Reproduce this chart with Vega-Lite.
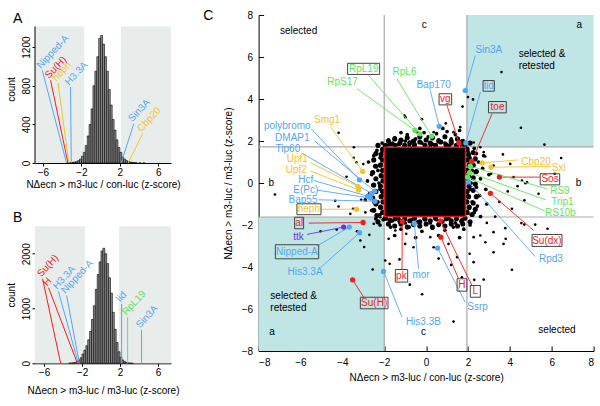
{
"$schema":"https://vega.github.io/schema/vega-lite/v6.json",
"background":"white",
"padding":{"left":6,"top":9,"right":5,"bottom":5},
"config":{
 "view":{"stroke":null},
 "font":"Liberation Sans",
 "axis":{"grid":false,"labelFont":"Liberation Sans","titleFont":"Liberation Sans","labelFontSize":10,"titleFontSize":10,"titleFontWeight":"normal","labelColor":"#000","titleColor":"#000","domainColor":"#000","tickColor":"#000","domainWidth":1,"tickWidth":1}
},
"datasets":{
 "histA":[
  {"b0":-3.6,"b1":-3.4,"n":2},{"b0":-3.4,"b1":-3.2,"n":3},{"b0":-3.2,"b1":-3.0,"n":5},{"b0":-3.0,"b1":-2.8,"n":7},{"b0":-2.8,"b1":-2.6,"n":10},{"b0":-2.6,"b1":-2.4,"n":15},{"b0":-2.4,"b1":-2.2,"n":25},{"b0":-2.2,"b1":-2.0,"n":40},{"b0":-2.0,"b1":-1.8,"n":70},{"b0":-1.8,"b1":-1.6,"n":110},{"b0":-1.6,"b1":-1.4,"n":180},{"b0":-1.4,"b1":-1.2,"n":280},{"b0":-1.2,"b1":-1.0,"n":400},{"b0":-1.0,"b1":-0.8,"n":560},{"b0":-0.8,"b1":-0.6,"n":800},{"b0":-0.6,"b1":-0.4,"n":950},{"b0":-0.4,"b1":-0.2,"n":1100},{"b0":-0.2,"b1":0.0,"n":1290},{"b0":0.0,"b1":0.2,"n":1320},{"b0":0.2,"b1":0.4,"n":1230},{"b0":0.4,"b1":0.6,"n":1100},{"b0":0.6,"b1":0.8,"n":950},{"b0":0.8,"b1":1.0,"n":760},{"b0":1.0,"b1":1.2,"n":600},{"b0":1.2,"b1":1.4,"n":450},{"b0":1.4,"b1":1.6,"n":340},{"b0":1.6,"b1":1.8,"n":240},{"b0":1.8,"b1":2.0,"n":160},{"b0":2.0,"b1":2.2,"n":110},{"b0":2.2,"b1":2.4,"n":60},{"b0":2.4,"b1":2.6,"n":40},{"b0":2.6,"b1":2.8,"n":25},{"b0":2.8,"b1":3.0,"n":15},{"b0":3.0,"b1":3.2,"n":10},{"b0":3.2,"b1":3.4,"n":6},{"b0":3.4,"b1":3.6,"n":4},{"b0":3.6,"b1":3.8,"n":3},{"b0":4.0,"b1":4.2,"n":2},{"b0":4.4,"b1":4.6,"n":1}
 ],
 "histB":[
  {"b0":-3.4,"b1":-3.2,"n":4},{"b0":-3.2,"b1":-3.0,"n":6},{"b0":-3.0,"b1":-2.8,"n":10},{"b0":-2.8,"b1":-2.6,"n":18},{"b0":-2.6,"b1":-2.4,"n":35},{"b0":-2.4,"b1":-2.2,"n":60},{"b0":-2.2,"b1":-2.0,"n":100},{"b0":-2.0,"b1":-1.8,"n":170},{"b0":-1.8,"b1":-1.6,"n":240},{"b0":-1.6,"b1":-1.4,"n":320},{"b0":-1.4,"b1":-1.2,"n":430},{"b0":-1.2,"b1":-1.0,"n":580},{"b0":-1.0,"b1":-0.8,"n":800},{"b0":-0.8,"b1":-0.6,"n":1050},{"b0":-0.6,"b1":-0.4,"n":1350},{"b0":-0.4,"b1":-0.2,"n":1620},{"b0":-0.2,"b1":0.0,"n":1850},{"b0":0.0,"b1":0.2,"n":2050},{"b0":0.2,"b1":0.4,"n":2100},{"b0":0.4,"b1":0.6,"n":2000},{"b0":0.6,"b1":0.8,"n":1820},{"b0":0.8,"b1":1.0,"n":1560},{"b0":1.0,"b1":1.2,"n":1280},{"b0":1.2,"b1":1.4,"n":930},{"b0":1.4,"b1":1.6,"n":620},{"b0":1.6,"b1":1.8,"n":380},{"b0":1.8,"b1":2.0,"n":210},{"b0":2.0,"b1":2.2,"n":110},{"b0":2.2,"b1":2.4,"n":60},{"b0":2.4,"b1":2.6,"n":30},{"b0":2.6,"b1":2.8,"n":15},{"b0":2.8,"b1":3.0,"n":8},{"b0":3.0,"b1":3.2,"n":4},{"b0":3.2,"b1":3.4,"n":2}
 ],
 "shadeA":[{"x1":-6.83,"x2":-1.7,"top":1414,"bot":0},{"x1":2.1,"x2":7.32,"top":1414,"bot":0}],
 "shadeB":[{"x1":-6.95,"x2":-1.7,"top":2500,"bot":0},{"x1":1.9,"x2":7.37,"top":2500,"bot":0}],
 "axisA":[{"xa":-6.83,"ya":0,"yb":1414}],
 "letterA":[{"t":"A","x":-9.12,"y":1454}],
 "letterB":[{"t":"B","x":-9.27,"y":2573}],
 "letterC":[{"t":"C","x":-10.64,"y":7.74}],
 "annA":[
  {"g":"Nipped-A","c":"blue","xb":-3.55,"xt":-6.07,"n":958,"z":0},
  {"g":"Su(H)","c":"red","xb":-3.4,"xt":-5.21,"n":855,"z":0},
  {"g":"heph","c":"yellow","xb":-3.3,"xt":-4.44,"n":827,"z":0},
  {"g":"H3.3A","c":"blue","xb":-3.06,"xt":-3.13,"n":786,"z":0},
  {"g":"Sin3A","c":"blue","xb":2.13,"xt":3.45,"n":407,"z":0},
  {"g":"Cbp20","c":"yellow","xb":2.86,"xt":4.38,"n":304,"z":0}
 ],
 "annB":[
  {"g":"Su(H)","c":"red","xb":-4.25,"xt":-6.15,"n":1543,"z":0},
  {"g":"H","c":"red","xb":-2.49,"xt":-5.52,"n":1378,"z":0},
  {"g":"H3.3A","c":"blue","xb":-2.39,"xt":-4.49,"n":1316,"z":0},
  {"g":"Nipped-A","c":"blue","xb":-2.28,"xt":-3.62,"n":1238,"z":0},
  {"g":"lid","c":"blue","xb":2.17,"xt":2.17,"n":1086,"z":0},
  {"g":"RpL19","c":"green","xb":2.8,"xt":2.8,"n":841,"z":0},
  {"g":"Sin3A","c":"blue","xb":4.27,"xt":4.27,"n":610,"z":0}
 ],
 "tealC":[{"x1":1.95,"x2":8,"y1":1.72,"y2":8},{"x1":-8,"x2":-2,"y1":-8,"y2":-1.62}],
 "linesC":[{"x1":-2,"x2":-2,"y1":-8,"y2":8},{"x1":1.95,"x2":1.95,"y1":-8,"y2":8},{"x1":-8,"x2":8,"y1":1.72,"y2":1.72},{"x1":-8,"x2":8,"y1":-1.62,"y2":-1.62}],
 "blobC":[{"x1":-2,"x2":1.88,"y1":-1.6,"y2":1.7}],
 "ptsC":[
  {"x":3.6,"y":5.28},{"x":4.53,"y":2.63},{"x":5.65,"y":1.83},{"x":-4.18,"y":2.39},{"x":-3.45,"y":1.7},{"x":-1.03,"y":3.21},{"x":-0.98,"y":3.13},{"x":-0.2,"y":3.04},{"x":0.94,"y":2.84},{"x":1.74,"y":3.64},{"x":2.0,"y":4.09},{"x":2.24,"y":3.98},{"x":6.45,"y":1.19},{"x":-7.22,"y":-0.55},{"x":4.02,"y":0.91},{"x":4.58,"y":0.12},{"x":6.14,"y":0.44},{"x":-4.34,"y":-0.85},{"x":-4.18,"y":-1.12},{"x":-5.04,"y":-2.3},{"x":-4.27,"y":-2.22},{"x":-2.96,"y":-3.05},{"x":-2.55,"y":-4.12},{"x":-1.95,"y":-3.69},{"x":-1.74,"y":-3.85},{"x":-1.27,"y":-3.64},{"x":-0.78,"y":-4.84},{"x":-0.19,"y":-5.3},{"x":1.31,"y":-6.6},{"x":1.71,"y":-4.49},{"x":2.3,"y":-4.61},{"x":2.75,"y":-4.6},{"x":3.22,"y":-3.3},{"x":3.7,"y":-2.9},{"x":4.1,"y":-4.13},{"x":4.55,"y":-1.91},{"x":5.8,"y":-2.18},{"x":2.83,"y":-2.82},{"x":2.27,"y":-3.77},{"x":3.67,"y":1.36},{"x":3.8,"y":-2.66},{"x":3.78,"y":-2.15},{"x":4.69,"y":-1.98},{"x":5.21,"y":-1.98},{"x":4.1,"y":-1.23},{"x":4.69,"y":-0.83},{"x":4.37,"y":-0.15},{"x":4.82,"y":0.04},{"x":5.37,"y":-0.51},{"x":3.22,"y":-2.34},{"x":2.59,"y":-2.5},{"x":2.08,"y":-3.37},{"x":3.22,"y":0.83},{"x":3.11,"y":0.44},{"x":2.83,"y":1.26},{"x":4.18,"y":0.28},{"x":4.74,"y":-0.01},{"x":-3.46,"y":1.2},{"x":-3.33,"y":0.99},{"x":-3.49,"y":-1.23},{"x":-3.62,"y":-1.47},{"x":-3.14,"y":-2.74},{"x":-2.71,"y":-2.47},{"x":-2.5,"y":-1.94},{"x":-2.19,"y":-1.63},{"x":-1.79,"y":-2.66},{"x":-1.47,"y":-2.26},{"x":-0.95,"y":-2.42},{"x":-0.6,"y":-3.06},{"x":0.2,"y":-2.58},{"x":0.36,"y":-3.06},{"x":1.07,"y":-2.9},{"x":1.48,"y":-3.53},{"x":2.27,"y":-2.58},{"x":-0.91,"y":2.18},{"x":-1.23,"y":2.02},{"x":-1.55,"y":1.79},{"x":-0.43,"y":2.42},{"x":0.36,"y":2.42},{"x":1.31,"y":2.42},{"x":1.63,"y":2.66},{"x":2.59,"y":1.7},{"x":2.75,"y":1.47},{"x":2.27,"y":1.93},{"x":3.5,"y":-0.9},{"x":3.9,"y":-0.4},{"x":3.3,"y":-1.6},{"x":2.9,"y":-1.9},{"x":-3.0,"y":0.9},{"x":-3.8,"y":0.3},{"x":-3.1,"y":-0.8},{"x":-2.9,"y":-1.4},{"x":-3.3,"y":-2.3},{"x":1.2,"y":-3.9},{"x":0.6,"y":-3.6},{"x":-1.0,"y":-2.9}
 ],
 "ringC":[
  {"x":-1.9,"y":1.8},{"x":-1.6,"y":1.9},{"x":-1.3,"y":1.85},{"x":-1.0,"y":2.0},{"x":-0.8,"y":1.8},{"x":-0.5,"y":2.1},{"x":-0.2,"y":1.9},{"x":0.1,"y":2.2},{"x":0.3,"y":1.85},{"x":0.6,"y":2.05},{"x":0.9,"y":1.9},{"x":1.2,"y":2.1},{"x":1.5,"y":1.85},{"x":1.7,"y":2.0},{"x":-1.5,"y":2.15},{"x":-0.9,"y":2.3},{"x":-0.1,"y":2.4},{"x":0.5,"y":2.35},{"x":1.0,"y":2.45},{"x":1.4,"y":2.3},{"x":-1.8,"y":2.05},{"x":-0.3,"y":2.6},{"x":0.8,"y":2.6},{"x":1.6,"y":2.5},{"x":-1.2,"y":2.4},{"x":0.2,"y":1.75},{"x":-0.6,"y":1.75},{"x":1.1,"y":1.78},{"x":-2.1,"y":1.9},{"x":-2.3,"y":1.75},
  {"x":-2.1,"y":1.5},{"x":-2.2,"y":1.2},{"x":-2.15,"y":0.9},{"x":-2.3,"y":0.6},{"x":-2.1,"y":0.3},{"x":-2.25,"y":0.0},{"x":-2.2,"y":-0.3},{"x":-2.1,"y":-0.6},{"x":-2.3,"y":-0.9},{"x":-2.15,"y":-1.2},{"x":-2.2,"y":-1.5},{"x":-2.5,"y":1.3},{"x":-2.45,"y":0.8},{"x":-2.6,"y":0.4},{"x":-2.55,"y":-0.1},{"x":-2.7,"y":-0.5},{"x":-2.5,"y":-0.9},{"x":-2.6,"y":-1.3},{"x":-2.4,"y":-1.7},{"x":-2.8,"y":0.1},{"x":-2.9,"y":-0.8},{"x":-2.75,"y":1.0},{"x":-2.35,"y":1.55},{"x":-2.05,"y":-1.75},
  {"x":2.0,"y":1.5},{"x":2.1,"y":1.2},{"x":2.05,"y":0.9},{"x":2.2,"y":0.6},{"x":2.0,"y":0.3},{"x":2.15,"y":0.0},{"x":2.1,"y":-0.3},{"x":2.0,"y":-0.6},{"x":2.2,"y":-0.9},{"x":2.05,"y":-1.2},{"x":2.15,"y":-1.5},{"x":2.4,"y":1.4},{"x":2.5,"y":1.0},{"x":2.35,"y":0.5},{"x":2.6,"y":0.2},{"x":2.4,"y":-0.2},{"x":2.55,"y":-0.6},{"x":2.45,"y":-1.1},{"x":2.3,"y":-1.4},{"x":2.7,"y":0.7},{"x":2.85,"y":-0.3},{"x":2.75,"y":1.3},{"x":2.3,"y":1.65},{"x":2.6,"y":-1.6},{"x":3.0,"y":0.4},{"x":2.9,"y":-1.0},
  {"x":-1.9,"y":-1.7},{"x":-1.6,"y":-1.8},{"x":-1.3,"y":-1.7},{"x":-1.0,"y":-1.9},{"x":-0.7,"y":-1.75},{"x":-0.4,"y":-1.85},{"x":-0.1,"y":-1.7},{"x":0.2,"y":-1.9},{"x":0.5,"y":-1.75},{"x":0.8,"y":-1.85},{"x":1.1,"y":-1.7},{"x":1.4,"y":-1.9},{"x":1.7,"y":-1.75},{"x":-1.7,"y":-2.1},{"x":-1.2,"y":-2.2},{"x":-0.8,"y":-2.1},{"x":-0.2,"y":-2.3},{"x":0.3,"y":-2.15},{"x":0.9,"y":-2.25},{"x":1.3,"y":-2.1},{"x":1.8,"y":-2.2},{"x":-1.5,"y":-2.5},{"x":-0.5,"y":-2.6},{"x":0.6,"y":-2.5},{"x":1.6,"y":-2.6},{"x":-2.2,"y":-2.0},{"x":2.1,"y":-2.0}
 ],
 "edgeC":[
  {"x":-1.95,"y":1.78},{"x":-1.72,"y":1.86},{"x":-1.48,"y":1.79},{"x":-1.25,"y":1.9},{"x":-1.02,"y":1.8},{"x":-0.78,"y":1.92},{"x":-0.55,"y":1.82},{"x":-0.3,"y":1.95},{"x":-0.05,"y":1.8},{"x":0.2,"y":1.9},{"x":0.45,"y":1.8},{"x":0.7,"y":1.95},{"x":0.95,"y":1.82},{"x":1.2,"y":1.9},{"x":1.45,"y":1.79},{"x":1.7,"y":1.86},{"x":1.85,"y":1.78},
  {"x":-1.95,"y":-1.68},{"x":-1.72,"y":-1.78},{"x":-1.48,"y":-1.7},{"x":-1.25,"y":-1.82},{"x":-1.02,"y":-1.7},{"x":-0.78,"y":-1.8},{"x":-0.55,"y":-1.68},{"x":-0.3,"y":-1.85},{"x":-0.05,"y":-1.72},{"x":0.2,"y":-1.8},{"x":0.45,"y":-1.68},{"x":0.7,"y":-1.82},{"x":0.95,"y":-1.7},{"x":1.2,"y":-1.8},{"x":1.45,"y":-1.7},{"x":1.7,"y":-1.82},{"x":1.85,"y":-1.68},
  {"x":-2.08,"y":1.6},{"x":-2.15,"y":1.35},{"x":-2.08,"y":1.1},{"x":-2.18,"y":0.85},{"x":-2.08,"y":0.6},{"x":-2.15,"y":0.35},{"x":-2.06,"y":0.1},{"x":-2.18,"y":-0.15},{"x":-2.08,"y":-0.4},{"x":-2.15,"y":-0.65},{"x":-2.06,"y":-0.9},{"x":-2.18,"y":-1.15},{"x":-2.08,"y":-1.4},
  {"x":1.96,"y":1.6},{"x":2.03,"y":1.35},{"x":1.96,"y":1.1},{"x":2.06,"y":0.85},{"x":1.96,"y":0.6},{"x":2.03,"y":0.35},{"x":1.95,"y":0.1},{"x":2.06,"y":-0.15},{"x":1.96,"y":-0.4},{"x":2.03,"y":-0.65},{"x":1.95,"y":-0.9},{"x":2.06,"y":-1.15},{"x":1.96,"y":-1.4},
  {"x":-1.8,"y":2.0},{"x":-1.5,"y":2.1},{"x":-1.2,"y":2.05},{"x":-0.9,"y":2.15},{"x":-0.6,"y":2.0},{"x":-0.3,"y":2.2},{"x":0.0,"y":2.05},{"x":0.3,"y":2.15},{"x":0.6,"y":2.0},{"x":0.9,"y":2.2},{"x":1.2,"y":2.0},{"x":1.5,"y":2.1},{"x":1.75,"y":1.98},
  {"x":-1.8,"y":-1.95},{"x":-1.5,"y":-2.05},{"x":-1.2,"y":-1.95},{"x":-0.9,"y":-2.1},{"x":-0.6,"y":-1.98},{"x":-0.3,"y":-2.05},{"x":0.0,"y":-1.95},{"x":0.3,"y":-2.1},{"x":0.6,"y":-1.98},{"x":0.9,"y":-2.05},{"x":1.2,"y":-1.95},{"x":1.5,"y":-2.05},{"x":1.75,"y":-1.95},
  {"x":-2.4,"y":1.4},{"x":-2.5,"y":1.1},{"x":-2.4,"y":0.8},{"x":-2.55,"y":0.5},{"x":-2.4,"y":0.2},{"x":-2.5,"y":-0.1},{"x":-2.4,"y":-0.4},{"x":-2.55,"y":-0.7},{"x":-2.4,"y":-1.0},{"x":-2.5,"y":-1.3},{"x":-2.35,"y":-1.55},
  {"x":2.25,"y":1.45},{"x":2.35,"y":1.15},{"x":2.25,"y":0.85},{"x":2.4,"y":0.55},{"x":2.25,"y":0.25},{"x":2.35,"y":-0.05},{"x":2.25,"y":-0.35},{"x":2.4,"y":-0.65},{"x":2.25,"y":-0.95},{"x":2.35,"y":-1.25},{"x":2.2,"y":-1.5},
  {"x":-2.3,"y":1.8},{"x":2.1,"y":1.9},{"x":-2.3,"y":-1.85},{"x":2.1,"y":-1.85}
 ],
 "annC":[
  {"g":"RpS17","c":"green","px":-0.53,"py":2.5,"lx":-3.3,"ly":4.49,"tx":-3.99,"ty":4.8},
  {"g":"RpL19","c":"green","px":-0.29,"py":2.34,"lx":-2.75,"ly":5.12,"tx":-2.98,"ty":5.44},
  {"g":"RpL6","c":"green","px":0.26,"py":2.23,"lx":-1.39,"ly":4.96,"tx":-1.03,"ty":5.28},
  {"g":"Bap170","c":"blue","px":0.63,"py":2.7,"lx":0.2,"ly":4.4,"tx":0.36,"ty":4.68},
  {"g":"Sin3A","c":"blue","px":1.87,"py":4.4,"lx":2.35,"ly":6.07,"tx":3.0,"ty":6.34},
  {"g":"lid","c":"blue","px":1.9,"py":1.91,"lx":2.59,"ly":4.32,"tx":2.99,"ty":4.62},
  {"g":"vg","c":"red","px":1.57,"py":1.91,"lx":1.0,"ly":3.69,"tx":0.92,"ty":3.98},
  {"g":"toe","c":"red","px":2.19,"py":1.02,"lx":3.15,"ly":3.3,"tx":3.41,"ty":3.61},
  {"g":"Cbp20","c":"yellow","px":2.68,"py":0.96,"lx":4.42,"ly":1.1,"tx":5.25,"ty":0.99},
  {"g":"Sxl","c":"yellow","px":3.1,"py":0.75,"lx":5.95,"ly":0.79,"tx":6.33,"ty":0.72},
  {"g":"Sos","c":"red","px":3.5,"py":0.28,"lx":5.42,"ly":0.28,"tx":5.92,"ty":0.17},
  {"g":"RS9","c":"green","px":2.11,"py":0.8,"lx":5.77,"ly":-0.28,"tx":6.39,"ty":-0.39},
  {"g":"Trip1","c":"green","px":2.08,"py":0.49,"lx":5.72,"ly":-0.8,"tx":6.51,"ty":-0.91},
  {"g":"RS10b","c":"green","px":1.98,"py":0.28,"lx":5.68,"ly":-1.34,"tx":6.41,"ty":-1.44},
  {"g":"Su(dx)","c":"red","px":3.07,"py":-0.49,"lx":5.14,"ly":-2.26,"tx":5.77,"ty":-2.74},
  {"g":"Rpd3","c":"blue","px":2.02,"py":0.05,"lx":5.21,"ly":-3.5,"tx":5.96,"ty":-3.61},
  {"g":"Ssrp","c":"blue","px":0.55,"py":-3.1,"lx":1.87,"ly":-5.68,"tx":2.46,"ty":-5.91},
  {"g":"H","c":"red","px":0.71,"py":-2.58,"lx":1.55,"ly":-4.56,"tx":1.71,"ty":-4.86},
  {"g":"L","c":"red","px":0.68,"py":-1.8,"lx":2.19,"ly":-4.88,"tx":2.35,"ty":-5.16},
  {"g":"mor","c":"blue","px":-0.56,"py":-1.94,"lx":-0.36,"ly":-4.09,"tx":-0.24,"ty":-4.36},
  {"g":"pk","c":"red","px":-1.14,"py":-1.83,"lx":-1.15,"ly":-4.12,"tx":-1.18,"ty":-4.42},
  {"g":"His3.3B","c":"blue","px":-2.03,"py":-4.21,"lx":-1.15,"ly":-6.39,"tx":-0.13,"ty":-6.6},
  {"g":"Su(H)","c":"red","px":-3.51,"py":-4.61,"lx":-2.98,"ly":-5.44,"tx":-2.48,"ty":-5.72},
  {"g":"His3.3A","c":"blue","px":-3.18,"py":-2.37,"lx":-5.02,"ly":-4.01,"tx":-5.78,"ty":-4.25},
  {"g":"Nipped-A","c":"blue","px":-3.67,"py":-2.1,"lx":-5.21,"ly":-3.0,"tx":-6.17,"ty":-3.28},
  {"g":"ttk","c":"purple","px":-3.94,"py":-2.1,"lx":-5.69,"ly":-2.45,"tx":-6.09,"ty":-2.55},
  {"g":"al","c":"red","px":-3.01,"py":-1.88,"lx":-5.61,"ly":-1.91,"tx":-6.06,"ty":-1.91},
  {"g":"heph","c":"yellow","px":-3.32,"py":-1.25,"lx":-5.02,"ly":-1.25,"tx":-5.6,"ty":-1.25},
  {"g":"Bap55","c":"blue","px":-2.44,"py":-0.87,"lx":-5.13,"ly":-0.8,"tx":-5.88,"ty":-0.8},
  {"g":"E(Pc)","c":"blue","px":-2.66,"py":-0.72,"lx":-5.21,"ly":-0.34,"tx":-5.75,"ty":-0.32},
  {"g":"Hcf","c":"blue","px":-2.79,"py":-0.63,"lx":-5.37,"ly":0.12,"tx":-5.75,"ty":0.16},
  {"g":"Upf2","c":"yellow","px":-3.22,"py":-0.33,"lx":-5.53,"ly":0.57,"tx":-6.2,"ty":0.64},
  {"g":"Upf1","c":"yellow","px":-3.25,"py":-0.17,"lx":-5.53,"ly":0.97,"tx":-6.15,"ty":1.12},
  {"g":"Tip60","c":"blue","px":-2.6,"py":-0.5,"lx":-5.93,"ly":1.42,"tx":-6.6,"ty":1.6},
  {"g":"DMAP1","c":"blue","px":-2.46,"py":-0.39,"lx":-5.32,"ly":2.0,"tx":-6.39,"ty":2.14},
  {"g":"polybromo","c":"blue","px":-3.18,"py":0.15,"lx":-5.48,"ly":2.57,"tx":-6.63,"ty":2.7},
  {"g":"Smg1","c":"yellow","px":-3.03,"py":0.55,"lx":-4.57,"ly":2.69,"tx":-4.73,"ty":3.01}
 ],
 "boxC":[
  {"g":"RpL19","x1":-3.75,"x2":-2.22,"y1":5.17,"y2":5.7},
  {"g":"lid","x1":2.72,"x2":3.26,"y1":4.37,"y2":4.88},
  {"g":"vg","x1":0.62,"x2":1.22,"y1":3.72,"y2":4.25},
  {"g":"toe","x1":2.98,"x2":3.83,"y1":3.34,"y2":3.88},
  {"g":"Sos","x1":5.45,"x2":6.38,"y1":-0.09,"y2":0.44},
  {"g":"Su(dx)","x1":5.06,"x2":6.49,"y1":-3.02,"y2":-2.45},
  {"g":"H","x1":1.48,"x2":1.95,"y1":-5.15,"y2":-4.56},
  {"g":"L","x1":2.11,"x2":2.59,"y1":-5.44,"y2":-4.88},
  {"g":"pk","x1":-1.47,"x2":-0.88,"y1":-4.72,"y2":-4.12},
  {"g":"Su(H)","x1":-3.14,"x2":-1.82,"y1":-5.99,"y2":-5.44},
  {"g":"Nipped-A","x1":-7.2,"x2":-5.13,"y1":-3.61,"y2":-2.94},
  {"g":"al","x1":-6.28,"x2":-5.85,"y1":-2.18,"y2":-1.63},
  {"g":"heph","x1":-6.17,"x2":-5.02,"y1":-1.51,"y2":-0.99}
 ],
 "quadC":[
  {"t":"selected","x":-6.09,"y":7.26},{"t":"c","x":-0.09,"y":7.53},{"t":"a","x":7.32,"y":7.53},
  {"t":"b","x":-7.39,"y":0.02},{"t":"b","x":7.28,"y":0.0},
  {"t":"a","x":-7.36,"y":-7.1},{"t":"c","x":-0.12,"y":-7.1},{"t":"selected","x":6.25,"y":-7.02}
 ],
 "quadL":[
  {"t":"selected &","x":4.42,"y":6.12},{"t":"retested","x":4.42,"y":5.56},
  {"t":"selected &","x":-7.44,"y":-5.39},{"t":"retested","x":-7.44,"y":-5.94}
 ]
},
"bounds":"flush",
"spacing":223.6,
"hconcat":[
 {"bounds":"flush","spacing":63.3,"vconcat":[
  {"width":136,"height":148,
   "layer":[
    {"data":{"name":"shadeA"},"mark":{"type":"rect","color":"#e8edeb"},"encoding":{
      "x":{"field":"x1","type":"quantitative","scale":{"domain":[-6.83,7.32],"nice":false,"zero":false},"axis":{"values":[-6,-4,-2,0,2,4,6],"title":"NΔecn > m3-luc / con-luc  (z-score)","tickSize":3,"labelPadding":1,"titlePadding":2}},
      "x2":{"field":"x2"},
      "y":{"field":"top","type":"quantitative","scale":{"domain":[0,1532],"nice":false,"zero":false},"axis":{"values":[0,200,400,600,800,1000,1200,1400],"labelExpr":"datum.value % 400 == 0 ? datum.label : ''","format":"d","labelAngle":-90,"domain":false,"title":"count","tickSize":3,"labelPadding":1,"titlePadding":5}},
      "y2":{"field":"bot"}}},
    {"data":{"name":"histA"},"mark":{"type":"rect","fill":"#8f8f8f","stroke":"#000","strokeWidth":0.6},"encoding":{
      "x":{"field":"b0","type":"quantitative","scale":{"domain":[-6.83,7.32],"nice":false,"zero":false}},"x2":{"field":"b1"},
      "y":{"field":"n","type":"quantitative","scale":{"domain":[0,1532],"nice":false,"zero":false}},"y2":{"datum":0}}},
    {"data":{"name":"axisA"},"mark":{"type":"rule","color":"#000","strokeWidth":1},"encoding":{
      "x":{"field":"xa","type":"quantitative","scale":{"domain":[-6.83,7.32],"nice":false,"zero":false}},
      "y":{"field":"ya","type":"quantitative","scale":{"domain":[0,1532],"nice":false,"zero":false}},"y2":{"field":"yb"}}},
    {"data":{"name":"annA"},"mark":{"type":"rule","strokeWidth":1},"encoding":{
      "x":{"field":"xb","type":"quantitative","scale":{"domain":[-6.83,7.32],"nice":false,"zero":false}},"x2":{"field":"xt"},
      "y":{"field":"z","type":"quantitative","scale":{"domain":[0,1532],"nice":false,"zero":false}},"y2":{"field":"n"},
      "color":{"field":"c","type":"nominal","legend":null,"scale":{"domain":["blue","red","green","yellow","purple"],"range":["#55a6f2","#f21c1c","#63e35a","#f7c22b","#6b34e8"]}}}},
    {"data":{"name":"annA"},"mark":{"type":"text","angle":-47,"align":"left","baseline":"bottom","fontSize":10},"encoding":{
      "x":{"field":"xt","type":"quantitative","scale":{"domain":[-6.83,7.32],"nice":false,"zero":false}},
      "y":{"field":"n","type":"quantitative","scale":{"domain":[0,1532],"nice":false,"zero":false}},
      "text":{"field":"g","type":"nominal"},
      "color":{"field":"c","type":"nominal","legend":null,"scale":{"domain":["blue","red","green","yellow","purple"],"range":["#55a6f2","#f21c1c","#63e35a","#f7c22b","#6b34e8"]}}}},
    {"data":{"name":"letterA"},"mark":{"type":"text","align":"left","baseline":"alphabetic","fontSize":14,"color":"#000"},"encoding":{
      "x":{"field":"x","type":"quantitative","scale":{"domain":[-6.83,7.32],"nice":false,"zero":false}},
      "y":{"field":"y","type":"quantitative","scale":{"domain":[0,1532],"nice":false,"zero":false}},
      "text":{"field":"t","type":"nominal"}}}
   ]
  },
  {"width":136,"height":137,
   "layer":[
    {"data":{"name":"shadeB"},"mark":{"type":"rect","color":"#e8edeb"},"encoding":{
      "x":{"field":"x1","type":"quantitative","scale":{"domain":[-6.95,7.37],"nice":false,"zero":false},"axis":{"values":[-6,-4,-2,0,2,4,6],"title":"NΔecn > m3-luc / m3-luc  (z-score)","tickSize":3,"labelPadding":1,"titlePadding":8}},
      "x2":{"field":"x2"},
      "y":{"field":"top","type":"quantitative","scale":{"domain":[0,2500],"nice":false,"zero":false},"axis":{"values":[0,500,1000,1500,2000,2500],"labelExpr":"datum.value % 1000 == 0 ? datum.label : ''","format":"d","labelAngle":-90,"title":"count","tickSize":3,"labelPadding":1,"titlePadding":5}},
      "y2":{"field":"bot"}}},
    {"data":{"name":"histB"},"mark":{"type":"rect","fill":"#8f8f8f","stroke":"#000","strokeWidth":0.6},"encoding":{
      "x":{"field":"b0","type":"quantitative","scale":{"domain":[-6.95,7.37],"nice":false,"zero":false}},"x2":{"field":"b1"},
      "y":{"field":"n","type":"quantitative","scale":{"domain":[0,2500],"nice":false,"zero":false}},"y2":{"datum":0}}},
    {"data":{"name":"annB"},"mark":{"type":"rule","strokeWidth":1},"encoding":{
      "x":{"field":"xb","type":"quantitative","scale":{"domain":[-6.95,7.37],"nice":false,"zero":false}},"x2":{"field":"xt"},
      "y":{"field":"z","type":"quantitative","scale":{"domain":[0,2500],"nice":false,"zero":false}},"y2":{"field":"n"},
      "color":{"field":"c","type":"nominal","legend":null,"scale":{"domain":["blue","red","green","yellow","purple"],"range":["#55a6f2","#f21c1c","#63e35a","#f7c22b","#6b34e8"]}}}},
    {"data":{"name":"annB"},"mark":{"type":"text","angle":-47,"align":"left","baseline":"bottom","fontSize":10},"encoding":{
      "x":{"field":"xt","type":"quantitative","scale":{"domain":[-6.95,7.37],"nice":false,"zero":false}},
      "y":{"field":"n","type":"quantitative","scale":{"domain":[0,2500],"nice":false,"zero":false}},
      "text":{"field":"g","type":"nominal"},
      "color":{"field":"c","type":"nominal","legend":null,"scale":{"domain":["blue","red","green","yellow","purple"],"range":["#55a6f2","#f21c1c","#63e35a","#f7c22b","#6b34e8"]}}}},
    {"data":{"name":"letterB"},"mark":{"type":"text","align":"left","baseline":"alphabetic","fontSize":14,"color":"#000"},"encoding":{
      "x":{"field":"x","type":"quantitative","scale":{"domain":[-6.95,7.37],"nice":false,"zero":false}},
      "y":{"field":"y","type":"quantitative","scale":{"domain":[0,2500],"nice":false,"zero":false}},
      "text":{"field":"t","type":"nominal"}}}
   ]
  }
 ]},
 {"width":335,"height":336,
  "layer":[
   {"data":{"name":"tealC"},"mark":{"type":"rect","color":"#bfe5e5"},"encoding":{
     "x":{"field":"x1","type":"quantitative","scale":{"domain":[-8,8],"nice":false,"zero":false},"axis":{"values":[-8,-6,-4,-2,0,2,4,6,8],"title":"NΔecn > m3-luc / con-luc (z-score)","tickSize":-5,"labelPadding":11,"titlePadding":5}},
     "x2":{"field":"x2"},
     "y":{"field":"y1","type":"quantitative","scale":{"domain":[-8,8],"nice":false,"zero":false},"axis":{"values":[-8,-6,-4,-2,0,2,4,6,8],"title":"NΔecn > m3-luc / m3-luc (z-score)","tickSize":-5,"labelPadding":11,"titlePadding":8}},
     "y2":{"field":"y2"}}},
   {"data":{"name":"linesC"},"mark":{"type":"rule","color":"#a9a9a9","strokeWidth":1.2},"encoding":{
     "x":{"field":"x1","type":"quantitative","scale":{"domain":[-8,8],"nice":false,"zero":false}},"x2":{"field":"x2"},
     "y":{"field":"y1","type":"quantitative","scale":{"domain":[-8,8],"nice":false,"zero":false}},"y2":{"field":"y2"}}},
   {"data":{"name":"ptsC"},"mark":{"type":"circle","color":"#000","size":7,"opacity":1},"encoding":{
     "x":{"field":"x","type":"quantitative","scale":{"domain":[-8,8],"nice":false,"zero":false}},
     "y":{"field":"y","type":"quantitative","scale":{"domain":[-8,8],"nice":false,"zero":false}}}},
   {"data":{"name":"blobC"},"mark":{"type":"rect","color":"#000"},"encoding":{
     "x":{"field":"x1","type":"quantitative","scale":{"domain":[-8,8],"nice":false,"zero":false}},"x2":{"field":"x2"},
     "y":{"field":"y1","type":"quantitative","scale":{"domain":[-8,8],"nice":false,"zero":false}},"y2":{"field":"y2"}}},
   {"data":{"name":"ringC"},"mark":{"type":"circle","color":"#000","size":14,"opacity":1},"encoding":{
     "x":{"field":"x","type":"quantitative","scale":{"domain":[-8,8],"nice":false,"zero":false}},
     "y":{"field":"y","type":"quantitative","scale":{"domain":[-8,8],"nice":false,"zero":false}}}},
   {"data":{"name":"edgeC"},"mark":{"type":"circle","color":"#000","size":26,"opacity":1},"encoding":{
     "x":{"field":"x","type":"quantitative","scale":{"domain":[-8,8],"nice":false,"zero":false}},
     "y":{"field":"y","type":"quantitative","scale":{"domain":[-8,8],"nice":false,"zero":false}}}},
   {"data":{"name":"blobC"},"mark":{"type":"rect","filled":false,"stroke":"#ee1111","strokeWidth":1.5},"encoding":{
     "x":{"field":"x1","type":"quantitative","scale":{"domain":[-8,8],"nice":false,"zero":false}},"x2":{"field":"x2"},
     "y":{"field":"y1","type":"quantitative","scale":{"domain":[-8,8],"nice":false,"zero":false}},"y2":{"field":"y2"}}},
   {"data":{"name":"annC"},"mark":{"type":"rule","strokeWidth":0.9},"encoding":{
     "x":{"field":"px","type":"quantitative","scale":{"domain":[-8,8],"nice":false,"zero":false}},"x2":{"field":"lx"},
     "y":{"field":"py","type":"quantitative","scale":{"domain":[-8,8],"nice":false,"zero":false}},"y2":{"field":"ly"},
     "color":{"field":"c","type":"nominal","legend":null,"scale":{"domain":["blue","red","green","yellow","purple"],"range":["#55a6f2","#f21c1c","#63e35a","#f7c22b","#6b34e8"]}}}},
   {"data":{"name":"annC"},"mark":{"type":"circle","size":28,"opacity":1},"encoding":{
     "x":{"field":"px","type":"quantitative","scale":{"domain":[-8,8],"nice":false,"zero":false}},
     "y":{"field":"py","type":"quantitative","scale":{"domain":[-8,8],"nice":false,"zero":false}},
     "color":{"field":"c","type":"nominal","legend":null,"scale":{"domain":["blue","red","green","yellow","purple"],"range":["#55a6f2","#f21c1c","#63e35a","#f7c22b","#6b34e8"]}}}},
   {"data":{"name":"boxC"},"mark":{"type":"rect","filled":false,"stroke":"#444","strokeWidth":1},"encoding":{
     "x":{"field":"x1","type":"quantitative","scale":{"domain":[-8,8],"nice":false,"zero":false}},"x2":{"field":"x2"},
     "y":{"field":"y1","type":"quantitative","scale":{"domain":[-8,8],"nice":false,"zero":false}},"y2":{"field":"y2"}}},
   {"data":{"name":"annC"},"mark":{"type":"text","fontSize":10,"align":"center","baseline":"middle"},"encoding":{
     "x":{"field":"tx","type":"quantitative","scale":{"domain":[-8,8],"nice":false,"zero":false}},
     "y":{"field":"ty","type":"quantitative","scale":{"domain":[-8,8],"nice":false,"zero":false}},
     "text":{"field":"g","type":"nominal"},
     "color":{"field":"c","type":"nominal","legend":null,"scale":{"domain":["blue","red","green","yellow","purple"],"range":["#55a6f2","#f21c1c","#63e35a","#f7c22b","#6b34e8"]}}}},
   {"data":{"name":"quadC"},"mark":{"type":"text","fontSize":10,"align":"center","baseline":"middle","color":"#000"},"encoding":{
     "x":{"field":"x","type":"quantitative","scale":{"domain":[-8,8],"nice":false,"zero":false}},
     "y":{"field":"y","type":"quantitative","scale":{"domain":[-8,8],"nice":false,"zero":false}},
     "text":{"field":"t","type":"nominal"}}},
   {"data":{"name":"quadL"},"mark":{"type":"text","fontSize":10,"align":"left","baseline":"middle","color":"#000"},"encoding":{
     "x":{"field":"x","type":"quantitative","scale":{"domain":[-8,8],"nice":false,"zero":false}},
     "y":{"field":"y","type":"quantitative","scale":{"domain":[-8,8],"nice":false,"zero":false}},
     "text":{"field":"t","type":"nominal"}}},
   {"data":{"name":"letterC"},"mark":{"type":"text","align":"left","baseline":"alphabetic","fontSize":14,"color":"#000"},"encoding":{
     "x":{"field":"x","type":"quantitative","scale":{"domain":[-8,8],"nice":false,"zero":false}},
     "y":{"field":"y","type":"quantitative","scale":{"domain":[-8,8],"nice":false,"zero":false}},
     "text":{"field":"t","type":"nominal"}}}
  ]
 }
]
}
